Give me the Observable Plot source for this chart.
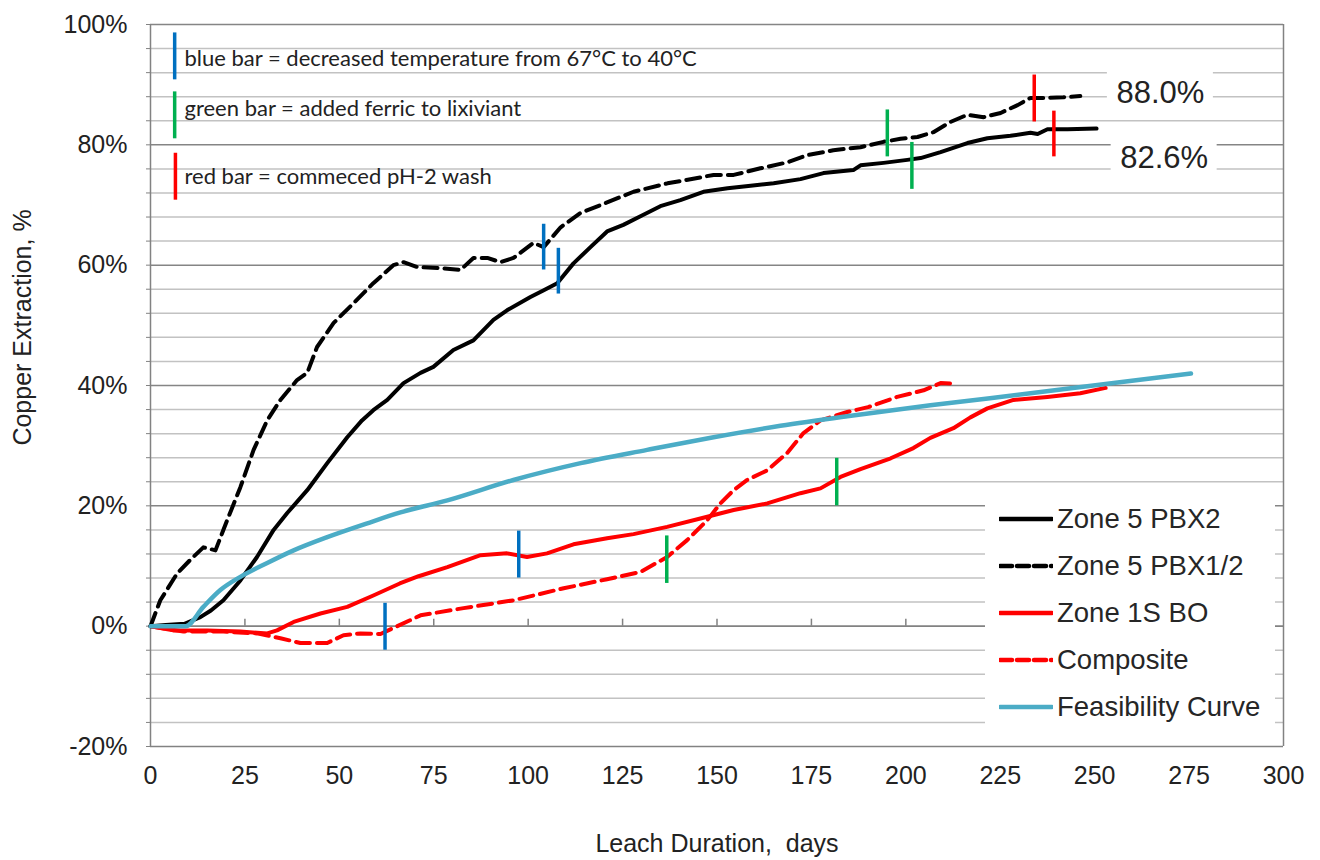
<!DOCTYPE html>
<html><head><meta charset="utf-8">
<script src="https://cdn.jsdelivr.net/npm/d3@7"></script>
<script src="https://cdn.jsdelivr.net/npm/@observablehq/plot@0.6"></script>
<style>
body{margin:0;background:#fff;}
#wrap{position:relative;width:1320px;height:860px;font-family:"Liberation Sans",Arial,sans-serif;}
#legend{position:absolute;left:985px;top:490px;width:290px;height:252px;background:#fff;}
.row{position:absolute;left:0;height:46px;display:flex;align-items:center;font-size:27.5px;color:#262626;white-space:nowrap;}
.row svg{margin-left:14px;margin-right:4px;}
</style></head><body><div id="wrap"><div id="chart"></div><div id="legend"></div></div>
<script>
// ---- ticks ----
const xTickValues = [0,25,50,75,100,125,150,175,200,225,250,275,300];
const yTickValues = [-20,0,20,40,60,80,100];
const yMinorGrid = [-16,-12,-8,-4,4,8,12,16,24,28,32,36,44,48,52,56,64,68,72,76,84,88,92,96];
const yMajorGrid = [20,40,60,80,100];
const yAllTicks = [-20,-16,-12,-8,-4,0,4,8,12,16,20,24,28,32,36,40,44,48,52,56,60,64,68,72,76,80,84,88,92,96,100];

// ---- series: [days, % extraction] ----
const zone5PBX2 = [[0,0],[4,0.2],[9,0.4],[13.2,1.5],[16,2.6],[19.3,4.3],[23.8,7.6],[28.2,11.5],[32.6,16.0],[36.2,18.8],[41.5,22.6],[46.8,27.1],[52.1,31.4],[56,34.2],[59,35.9],[62.7,37.6],[67,40.4],[71.5,42.1],[74.9,43.1],[80.2,45.9],[85.5,47.5],[90.8,50.9],[94.4,52.5],[100.6,54.7],[104,55.8],[107.7,57.0],[112,60.3],[116.5,63.0],[120.9,65.6],[125.2,66.7],[130,68.2],[135,69.8],[140.3,70.8],[146.4,72.2],[152.8,72.8],[158.9,73.2],[165,73.6],[172.1,74.3],[178.2,75.3],[186.1,75.8],[188,76.6],[194.1,77],[200.4,77.5],[203.9,77.8],[209.2,78.8],[216.3,80.3],[221.6,81.1],[227.7,81.5],[233,82],[234.9,81.8],[237.5,82.6],[242.8,82.6],[250.5,82.7]];
const zone5PBX12 = [[0,0],[2.6,4.3],[7.1,8.8],[10.5,11],[14,13.1],[17.2,12.6],[20.3,17.6],[23.8,23.1],[27.3,29.3],[30.9,34.2],[34.4,37.6],[38.8,40.9],[41.5,42.1],[44.1,46.4],[48.5,50.4],[53.8,53.7],[59,57],[64.3,60],[67,60.5],[70.6,59.7],[76.8,59.5],[82.1,59.2],[85.5,61.2],[89.2,61.2],[92.7,60.5],[96.1,61.2],[101.4,63.7],[104.1,63],[108.6,66.3],[113.9,68.7],[119.2,70.0],[127.9,72.2],[136.9,73.6],[144.8,74.5],[149.1,75],[154.4,75],[161.5,76.1],[168.7,77.1],[174,78.3],[180.8,79.1],[188,79.6],[194.1,80.5],[198.6,81],[203.1,81.3],[207.3,82.1],[211.8,83.8],[216.3,85],[220.6,84.6],[225.1,85.3],[229.6,86.6],[233,87.8],[237.5,87.8],[241.7,87.9],[246.2,88.1]];
const zone1SBO = [[0,0],[6,-0.7],[15,-0.7],[23.8,-0.9],[30.9,-1.2],[33.5,-0.7],[37.9,0.7],[45,2.1],[52.1,3.2],[59,5.1],[66,7.1],[71,8.3],[78.6,9.8],[87.4,11.8],[94.4,12.1],[99.7,11.5],[105,12.1],[112,13.6],[120.9,14.6],[127.9,15.3],[136.8,16.5],[145.6,17.9],[154.4,19.3],[163.3,20.4],[172.1,22.1],[177.4,22.9],[182.7,24.8],[188,26.1],[196,27.9],[202,29.6],[206.5,31.3],[212.6,32.9],[217.1,34.7],[221.6,36.2],[228.5,37.6],[237.5,38.1],[246.2,38.7],[252.9,39.6]];
const composite = [[0,0],[8.7,-0.9],[19.3,-0.9],[28.2,-1.2],[34.4,-2],[39.7,-2.8],[46.8,-2.8],[51.1,-1.5],[55.6,-1.2],[60.9,-1.3],[64,-0.4],[71.5,1.8],[82.9,3],[96.1,4.3],[109.4,6.3],[120.9,7.8],[129.7,9],[136.8,11.5],[142.1,14.3],[147.4,17.6],[150.9,20.4],[154.4,22.6],[158,24.3],[163.3,25.9],[168.6,28.8],[172.9,32.1],[177.4,34.2],[184.5,35.6],[190,36.4],[197.7,38.1],[204.7,39.2],[209.2,40.4],[213.1,40.3]];
const feasibility = [[0,0],[9.3,0],[14,3.2],[18.5,6],[23.8,8.2],[30.9,10.5],[37.9,12.6],[46.8,14.8],[57.4,17.1],[66.2,18.9],[78.6,20.9],[96.1,24.3],[113.9,27.1],[131.5,29.3],[149.1,31.4],[166.8,33.3],[184.5,34.9],[206.5,36.7],[233,38.7],[255,40.4],[275.5,42]];

// ---- event bars: kind, day, low %, high % ----
const eventKinds = ["temp","ferric","wash"];
const eventBars = [
  {kind:"temp", day:104.1, lo:59.2, hi:66.8},
  {kind:"temp", day:108, lo:55.2, hi:62.8},
  {kind:"temp", day:97.5, lo:8, hi:15.8},
  {kind:"temp", day:62.1, lo:-4, hi:3.8},
  {kind:"ferric", day:136.7, lo:7.1, hi:15},
  {kind:"ferric", day:181.7, lo:20, hi:27.9},
  {kind:"ferric", day:195.1, lo:78, hi:85.8},
  {kind:"ferric", day:201.6, lo:72.6, hi:80.4},
  {kind:"wash", day:234, lo:83.8, hi:91.6},
  {kind:"wash", day:239.2, lo:78, hi:85.6}
];
// key of bars (top-left notes)
const noteBars = [
  {kind:"temp", day:6.4, lo:90.8, hi:98.6},
  {kind:"ferric", day:6.4, lo:81, hi:88.8},
  {kind:"wash", day:6.6, lo:70.8, hi:78.6}
];
const noteTexts = [
  {day:9, pct:94.3, text:"blue bar = decreased temperature from 67\u00b0C to 40\u00b0C"},
  {day:9, pct:86.0, text:"green bar = added ferric to lixiviant"},
  {day:9, pct:74.7, text:"red bar = commeced pH-2 wash"}
];
const endLabels = [
  {day:267.4, pct:88.6, text:"88.0%"},
  {day:268.4, pct:77.8, text:"82.6%"}
];
const legendItems = [
  {name:"Zone 5 PBX2", color:"#000000", dash:null},
  {name:"Zone 5 PBX1/2", color:"#000000", dash:"12,5"},
  {name:"Zone 1S BO", color:"#ff0000", dash:null},
  {name:"Composite", color:"#ff0000", dash:"12,5"},
  {name:"Feasibility Curve", color:"#4bacc6", dash:null}
];

const minorC = "#c2c2c2", majorC = "#858585", axisC = "#828282", textC = "#222";

const chart = Plot.plot({
  width: 1320, height: 860,
  marginLeft: 150, marginRight: 37, marginTop: 24, marginBottom: 114,
  style: {fontFamily: "'Liberation Sans', Arial, sans-serif", fontSize: "25px", color: textC, background: "#fff"},
  x: {domain: [0, 300]},
  y: {domain: [-20, 100]},
  color: {domain: eventKinds, range: ["#0070c0", "#00b050", "#ff0000"]},
  marks: [
    Plot.ruleY(yMinorGrid, {stroke: minorC, strokeWidth: 1.5}),
    Plot.ruleY(yMajorGrid, {stroke: majorC, strokeWidth: 1.5}),
    Plot.ruleY([0], {stroke: axisC, strokeWidth: 1.7}),
    Plot.ruleY([-20], {stroke: axisC, strokeWidth: 1.5}),
    Plot.ruleX([0], {stroke: axisC, strokeWidth: 1.5}),
    Plot.ruleX([300], {stroke: axisC, strokeWidth: 1.5}),
    Plot.ruleX(xTickValues.slice(1, -1), {x: d => d, y1: 0, y2: 0, insetTop: -7, stroke: axisC, strokeWidth: 1.5}),
    Plot.axisY({ticks: yAllTicks, tickSize: 4, tickFormat: () => "", label: null, stroke: axisC}),
    Plot.axisY({ticks: yTickValues, tickSize: 0, tickPadding: 23, tickFormat: d => d + "%", label: null, fill: textC}),
    Plot.axisX({ticks: xTickValues, tickSize: 0, tickPadding: 20, label: null, fill: textC}),
    Plot.rect(endLabels, {x1: "day", x2: "day", y1: "pct", y2: "pct", insetLeft: -53, insetRight: -53, insetTop: -21, insetBottom: -21, fill: "#fff"}),
    Plot.line(zone1SBO, {stroke: "#ff0000", strokeWidth: 4}),
    Plot.line(composite, {stroke: "#ff0000", strokeWidth: 4, strokeDasharray: "14,7"}),
    Plot.line(zone5PBX2, {stroke: "#000", strokeWidth: 4}),
    Plot.line(zone5PBX12, {stroke: "#000", strokeWidth: 4, strokeDasharray: "14,7"}),
    Plot.line(feasibility, {stroke: "#4bacc6", strokeWidth: 4.5, curve: "monotone-x"}),
    Plot.ruleX(eventBars, {x: "day", y1: "lo", y2: "hi", stroke: "kind", strokeWidth: 3.5}),
    Plot.ruleX(noteBars, {x: "day", y1: "lo", y2: "hi", stroke: "kind", strokeWidth: 3.5}),
    Plot.text(noteTexts, {x: "day", y: "pct", text: "text", textAnchor: "start", lineAnchor: "middle", fontFamily: "Lato, 'Open Sans', sans-serif", fontSize: 22, fill: textC}),
    Plot.text(endLabels, {x: "day", y: "pct", text: "text", textAnchor: "middle", lineAnchor: "middle", fontSize: 31, fill: textC}),
    Plot.text(["Leach Duration,\u00a0 days"], {frameAnchor: "bottom", text: d => d, dy: 97, textAnchor: "middle", lineAnchor: "middle", fontSize: 25, fill: textC}),
    Plot.text(["Copper Extraction, %"], {frameAnchor: "left", text: d => d, rotate: -90, dx: -128, dy: -58, textAnchor: "middle", lineAnchor: "middle", fontSize: 25, fill: textC})
  ]
});
document.getElementById("chart").appendChild(chart);

const leg = document.getElementById("legend");
legendItems.forEach((it, i) => {
  const row = document.createElement("div");
  row.className = "row";
  row.style.top = (6 + i * 47) + "px";
  row.innerHTML = `<svg width="54" height="8"><line x1="1" y1="4" x2="53" y2="4" stroke="${it.color}" stroke-width="4.5" stroke-linecap="round" ${it.dash ? `stroke-dasharray="${it.dash}"` : ""}/></svg><span>${it.name}</span>`;
  leg.appendChild(row);
});
</script>
</body></html>
